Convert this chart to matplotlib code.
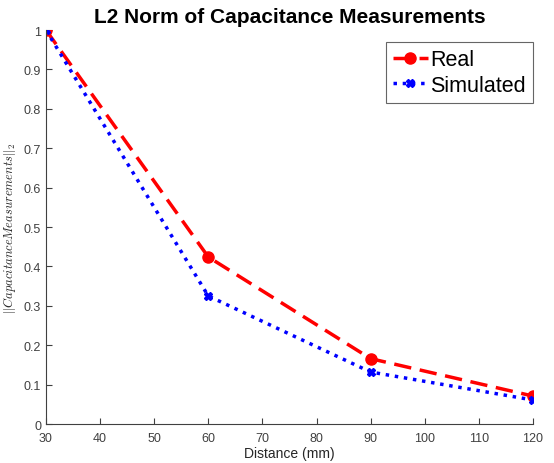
import matplotlib
matplotlib.use('Agg')
import matplotlib.pyplot as plt

distance = [30, 60, 90, 120]
real = [1.0, 0.424, 0.166, 0.071]
simulated = [1.0, 0.325, 0.132, 0.061]
xticks = [30, 40, 50, 60, 70, 80, 90, 100, 110, 120]
yticks = [0, 0.1, 0.2, 0.3, 0.4, 0.5, 0.6, 0.7, 0.8, 0.9, 1]

plt.rcParams['font.family'] = ['Liberation Sans', 'DejaVu Sans']
plt.rcParams['mathtext.fontset'] = 'cm'

fig = plt.figure(figsize=(5.54, 4.64), dpi=100)
ax = fig.add_axes([0.083, 0.084, 0.879, 0.849])

ax.plot(distance, real, color='red', linestyle=(0, (5, 2.5)), linewidth=2.5,
        marker='o', markersize=8, label='Real')
ax.plot(distance, simulated, color='blue', linestyle=':', linewidth=2.5,
        marker='X', markersize=6, label='Simulated')

ax.set_xlim(30, 120)
ax.set_ylim(0, 1)
ax.set_xticks(xticks)
ax.set_yticks(yticks)
ax.set_yticklabels(['0', '0.1', '0.2', '0.3', '0.4', '0.5', '0.6', '0.7', '0.8', '0.9', '1'])
ax.tick_params(direction='in', colors='#404040', labelsize=9, length=4)
ax.tick_params(axis='x', pad=6)
for s in ['top', 'right']:
    ax.spines[s].set_visible(False)
for s in ['left', 'bottom']:
    ax.spines[s].set_color('#404040')

ax.set_xlabel('Distance (mm)', fontsize=10, color='#262626', labelpad=1)
ax.set_ylabel(r'$||CapacitanceMeasurements||_2$', fontsize=9, color='#262626', labelpad=4)
ax.set_title('L2 Norm of Capacitance Measurements', fontsize=15, fontweight='bold', pad=6)

leg = ax.legend(loc='upper right', fontsize=15.5, fancybox=False, handlelength=1.6,
                handletextpad=0.1, borderpad=0.35, labelspacing=0.2,
                borderaxespad=0, bbox_to_anchor=(1.0, 0.97))
leg.get_frame().set_edgecolor('#404040')
leg.get_frame().set_linewidth(0.8)

fig.savefig('out.png', dpi=100)
